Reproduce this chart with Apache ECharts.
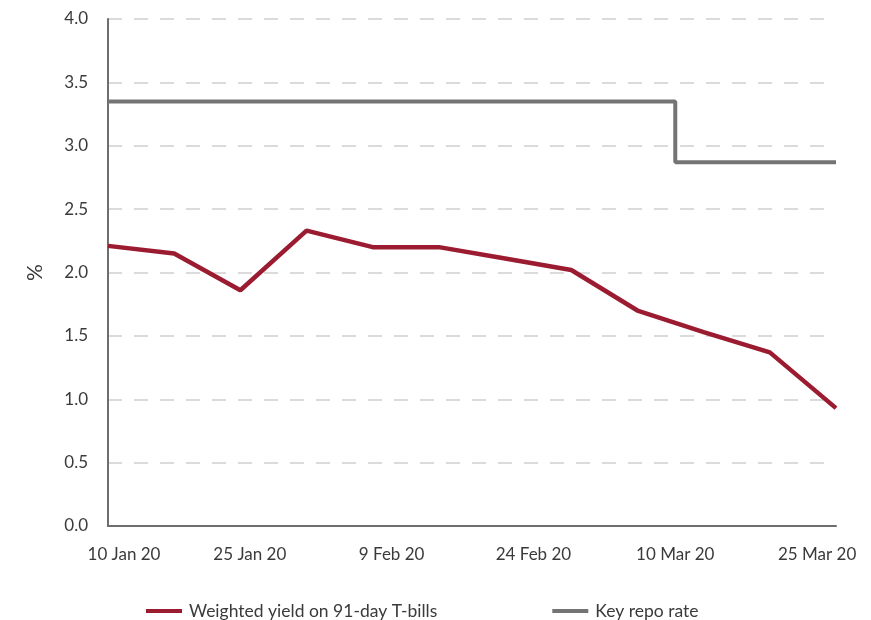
<!DOCTYPE html>
<html>
<head>
<meta charset="utf-8">
<script src="https://cdn.jsdelivr.net/npm/echarts@6/dist/echarts.min.js"></script>
<style>html,body{margin:0;padding:0;background:#fff;}#c{width:871px;height:620px;}</style>
</head>
<body>
<div id="c"></div>
<script>
// ---- data ----
var startDate = '2020-01-10';
var endDate = '2020-03-27';
var yieldDates = ['2020-01-10','2020-01-17','2020-01-24','2020-01-31','2020-02-07','2020-02-14',
                  '2020-02-21','2020-02-28','2020-03-06','2020-03-13','2020-03-20','2020-03-27'];
var yieldValues = [2.21, 2.15, 1.86, 2.33, 2.20, 2.20, 2.11, 2.02, 1.70, 1.53, 1.37, 0.93];
var repoDates = ['2020-01-10','2020-03-10','2020-03-27'];
var repoValues = [3.35, 2.87, 2.87];
var tickLabels = ['10 Jan 20','25 Jan 20','9 Feb 20','24 Feb 20','10 Mar 20','25 Mar 20'];
var seriesNames = ['Weighted yield on 91-day T-bills','Key repo rate'];

// ---- helpers ----
var DAY = 86400000;
function dayOffset(d){ return Math.round((Date.parse(d) - Date.parse(startDate)) / DAY); }
var maxDay = dayOffset(endDate);
function pairs(ds, vs){ return ds.map(function(d,i){ return [dayOffset(d), vs[i]]; }); }

var font = 'Lato, "Open Sans", sans-serif';
var txt = '#3a3a3a';

var chart = echarts.init(document.getElementById('c'), null, {renderer:'canvas'});
chart.setOption({
  animation: false,
  backgroundColor: '#fff',
  grid: { left: 108, right: 35, top: 19, bottom: 94, containLabel: false },
  legend: {
    left: 141, top: 597,
    itemWidth: 36, itemHeight: 4, itemGap: 115,
    icon: 'rect',
    textStyle: { fontFamily: font, fontSize: 17.5, color: txt, padding: [0,0,0,2] },
    data: seriesNames
  },
  xAxis: {
    type: 'value', min: 0, max: maxDay, interval: 15,
    axisLine: { show: true, lineStyle: { color: '#6e6e6e', width: 2 } },
    axisTick: { show: false },
    splitLine: { show: false },
    axisLabel: {
      showMaxLabel: true,
      margin: 20,
      fontFamily: font, fontSize: 17, color: txt,
      formatter: function(v){
        if (v % 15 !== 0) return '';
        var i = v / 15;
        if (i === 0) return '{first|' + tickLabels[0] + '}';
        return tickLabels[i] || '';
      },
      rich: { first: { fontFamily: font, fontSize: 17, color: txt, padding: [0,0,0,32] } }
    }
  },
  yAxis: {
    type: 'value', min: 0, max: 4, interval: 0.5,
    name: '%', nameLocation: 'middle', nameRotate: 90, nameGap: 62,
    nameTextStyle: { fontFamily: font, fontSize: 21, color: txt },
    axisLine: { show: true, lineStyle: { color: '#6e6e6e', width: 2 } },
    axisTick: { show: false },
    axisLabel: {
      margin: 20, fontFamily: font, fontSize: 17, color: txt,
      formatter: function(v){ return v.toFixed(1); }
    },
    splitLine: { show: true, lineStyle: { color: '#d0d0d0', width: 1.5, type: [14, 12] } }
  },
  series: [
    {
      name: seriesNames[0], type: 'line', data: pairs(yieldDates, yieldValues),
      symbol: 'none', lineStyle: { color: '#9b1c31', width: 4.5 }, itemStyle: { color: '#9b1c31' },
      z: 3
    },
    {
      name: seriesNames[1], type: 'line', data: pairs(repoDates, repoValues), step: 'end',
      symbol: 'none', lineStyle: { color: '#747474', width: 4 }, itemStyle: { color: '#747474' },
      z: 2
    }
  ]
});
</script>
</body>
</html>
